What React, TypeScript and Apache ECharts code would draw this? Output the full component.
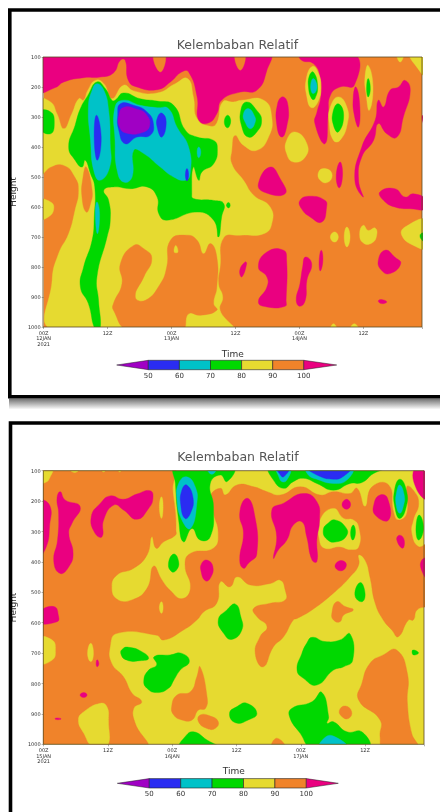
import React, { useEffect, useRef } from "react";
import * as echarts from "echarts";

const titleText = "Kelembaban Relatif";
const heightTicks = [100, 200, 300, 400, 500, 600, 700, 800, 900, 1000];
const timeLabels1 = ["00Z\n12JAN\n2021", "12Z", "00Z\n13JAN", "12Z", "00Z\n14JAN", "12Z"];
const timeLabels2 = ["00Z\n15JAN\n2021", "12Z", "00Z\n16JAN", "12Z", "00Z\n17JAN", "12Z"];
const legendLevels = [50, 60, 70, 80, 90, 100];

const PURPLE = "#a000c4", BLUE = "#2a2cf2", CYAN = "#00c2c8", GREEN = "#00d800", YELLOW = "#e6da30", ORANGE = "#f0832a", PINK = "#ea0080";
const legendColors = [PURPLE, BLUE, CYAN, GREEN, YELLOW, ORANGE, PINK];

// Contour regions, as flat lists of hour, hPa pairs.
const p1Pink = [
  [-1,90,42.2,90,41.9,144,40,211,36.9,217,33.4,244,32.5,289,30.9,320,29.1,311,28.8,233,27.2,150,25.9,150,23.8,183,21.3,209,17.5,200,15.9,178,15.3,111,14.4,111,13.1,153,10.6,167,7.5,169,3.8,183,2.2,202,-1,213],
  [45,233,45.9,267,45.6,333,44.7,367,43.8,333,43.9,256],
  [48.1,90,58.3,90,58.3,194,55.6,200,53.8,228,53.4,289,52.8,389,50.9,322,51.3,283,52,233,51.9,167,50.6,122,48.4,111],
  [58.6,200,59.3,256,59.1,333,58.3,294,58.1,233],
  [67.8,178,68.8,211,67.5,300,66.3,367,64.4,356,62.8,322,61.9,378,59.7,433,59.1,511,60,567,58.4,511,59.7,400,62.2,311,62.8,244,63.8,267,65,211,66.6,200],
  [55.6,450,56.1,489,55.5,536,54.9,500],
  [42.5,467,44.4,506,45.3,556,41.3,550,40.3,522],
  [63.1,550,65.9,539,67.8,567,69.4,556,72,578,72,606,68.8,606,65.9,600,63.8,578],
  [48.1,578,50,564,52.8,578,53.1,600,52.2,650,50,633,48.4,606],
  [37.8,783,38.1,789,37.2,833,36.8,811],
  [41.9,750,45,744,45.6,778,45.5,911,45.3,931,41.9,933,40.3,917,41.9,867,41.9,833,40.3,800],
  [49.1,767,50.3,789,49.4,844,49.1,911,48.1,931,47.4,911,48.1,856,48.6,800],
  [52.1,744,52.4,778,51.9,813,51.7,778],
  [64.1,744,65.9,767,67,789,65,822,63.4,811,62.8,778],
  [62.8,913,63.6,909,64.4,917,63.4,922],
  [71,300,72,290,72,340],
];
const p1OrangeNotches = [
  [20.6,90,22.8,90,21.9,150],
  [35.9,90,37.8,90,36.9,144],
];
const p1Yellow = [
  [-1,244,1.3,250,2.5,289,3.8,339,5.3,289,6.6,239,7.5,244,8.3,211,9.7,178,11.3,189,12.8,239,15,194,16.9,213,21.3,220,24.7,189,27,172,28.1,233,28.8,306,31.3,331,32.5,320,33.6,250,35.6,250,37.2,244,41.3,244,42.8,300,42.2,367,40,411,37.5,394,35.9,361,35.3,411,35.3,456,37.5,511,39.4,561,42.5,600,42.8,656,41.3,689,36.9,694,33.8,702,33.1,800,32.8,856,33.6,900,33.1,944,35.3,1010,1.9,1010,1.6,844,2.8,756,4.7,689,5.9,611,6.6,544,5.9,500,3.8,461,1.3,467,-1,500],
  [-1,578,1.3,583,1.9,606,0.9,633,-1,639],
  [47.2,350,49.4,389,49.1,433,46.9,450,45.6,422,45.6,378],
  [52.8,472,54.1,489,53.4,517,51.9,511,51.6,483],
  [50.5,131,51.6,156,52,200,51.6,244,50.3,269,49.4,233,49.3,172],
  [55.3,233,56.9,267,57,322,55.6,378,54.4,378,53.6,322,53.8,267],
  [60.9,128,61.8,200,61.1,278,60.5,222,60.3,167],
  [68.8,90,72,90,72,167,70,133],
  [66.3,90,67.5,90,66.9,117],
  [53.8,700,54.6,683,55.3,700,54.6,717],
  [56.9,667,57.5,700,56.9,733,56.4,700],
  [60,661,60.9,678,62.2,670,62.5,694,61.6,720,60,720,59.3,689],
  [72,644,72,735,69.4,728,67.2,694,67.8,667],
  [53.8,1010,54.4,989,55,1010],
  [57.5,1010,58.3,989,59.1,1010],
];
const p1OrangeIslands = [
  [13.1,922,14.7,856,14.4,789,16.9,728,18.8,739,20.3,772,18.8,833,17.2,900,19.1,911,21.9,856,23.1,800,23.8,711,26.9,694,28.8,711,30,756,31.3,722,32.5,767,32.5,867,31.9,922,32.5,944,29.4,961,27.2,956,25.9,1010,15.9,1010,13.1,944],
  [8,467,9.1,544,8.8,589,8,617,7.2,567,7.4,500],
];
const p1YellowSmall = [[24.8,728,25.2,750,24.5,750]];
const p1Green = [
  [-1,283,1.3,283,2,317,1.3,356,-1,333],
  [4.7,400,5.9,328,6.9,272,8.3,228,10,183,11.6,206,12.8,244,13.4,244,15,220,18.1,239,21.3,247,24.4,261,26.6,344,28.8,367,31.9,378,32.6,406,31.9,456,29.7,483,29.1,511,28.1,467,27.8,556,28.1,572,31.9,578,33.8,589,33.4,633,32.8,700,31.9,644,28.8,617,23.1,644,21.6,622,21.3,567,19.4,533,16.3,539,13.1,533,11.3,544,12.2,578,12.5,644,11.9,700,10,833,10.3,911,10.6,1010,9.7,1010,8.4,922,6.9,867,7.5,800,9.1,711,9.5,633,9.6,533,8.8,489,7.8,444,7.2,467,5.9,444],
  [34.5,294,35.1,313,34.5,336,33.9,317],
  [38.1,250,40,278,40.9,311,40,350,38.4,367,37.2,333,37,278],
  [50.6,150,51.4,194,50.9,239,50.3,239,49.7,200,49.9,161],
  [55.3,256,56.3,294,55.3,350,54.4,328,54.3,283],
  [60.9,172,61.3,206,60.9,233,60.6,206],
  [70.8,689,72,690,72,720,70.8,706],
  [34.7,585,35,594,34.7,603,34.3,594],
];
const p1Cyan = [
  [10,189,11.3,211,12.2,278,12.5,389,12.4,467,10.6,511,9.4,478,8.8,378,8.4,267,9.1,211],
  [10,583,10.5,622,10.1,689,9.7,622],
  [13.4,267,15,244,18.1,261,21.3,269,23.4,272,25,333,27.2,400,27.5,489,26.6,511,24.4,500,21.9,467,18.8,422,16.9,411,16.6,500,15,517,13.8,478,13.4,378],
  [29.1,400,29.5,417,29.1,436,28.8,417],
  [38.4,272,39.5,294,39.7,317,38.8,339,37.8,317,37.5,289],
  [50.6,172,51.3,200,50.6,222,50.1,200],
];
const p1Blue = [
  [13.9,294,14.4,256,16.9,261,19.4,283,20.6,322,20,361,17.5,367,15.3,389,14.1,344],
  [22.2,287,23,317,22.2,367,21.3,333,21.4,300],
  [9.9,294,10.8,367,10.1,444,9.5,378],
  [26.9,472,27.2,494,26.9,513,26.6,494],
];
const p1Purple = [[14.1,296,15,268,17.5,274,19.2,290,19.9,328,18.5,352,15.6,354,14.3,336]];

const p2OrangeMain = [
  [-1,90,23.9,90,24.1,164,24.6,240,24.7,295,24.6,312,22.4,334,21,355,20.2,317,19.3,377,16.8,421,13.7,443,12.7,482,13.7,523,16.5,525,19.3,487,20.5,414,22.1,460,23.6,493,25.8,521,27.4,487,26.4,410,27.4,372,31.7,355,32.6,306,31.7,240,31.1,186,33,158,33.9,180,36.1,147,39.2,153,41.7,169,44.2,180,47.9,153,51.6,180,54.1,169,57.2,175,58.5,158,60,218,61.3,153,64.4,147,65.3,235,66.2,262,67.8,240,67.8,153,69,164,70,207,69,262,68.7,306,70,350,72,339,72,536,69.7,558,69,591,68.1,591,66.2,646,65,624,63.4,591,61.9,536,60.9,449,60,394,58.8,377,58.8,410,57.2,449,54.4,498,50.1,558,47.3,586,46.6,591,44.8,646,42.9,679,41,745,39.5,701,40.4,646,41.7,613,39.8,580,39.2,553,42.3,536,45.1,525,45.1,493,44.2,460,42.3,471,38.6,476,36.1,449,34.8,482,33,465,32.3,536,29.9,564,28.6,591,26.1,624,22.4,657,21.1,641,13.7,635,12.4,679,12.7,734,14.9,778,16.5,832,18.3,860,16.8,882,17.1,931,19,1010,-1,1010],
  [29.2,745,30.5,843,30.2,882,28.9,887,27.7,920,25.8,920,24.3,904,23.9,876,24.9,838,27.4,827,28.6,778],
  [29.2,904,31.1,907,32.6,926,32,948,30.5,948,28.9,926],
  [42.6,1010,43.5,980,45.1,1010],
  [56.3,874,57.5,893,56.9,915,55.7,909,55.2,889],
  [65.9,690,67.9,767,67.9,865,68.7,964,69.7,1010,63.4,1010,62.8,975,62.8,920,58.8,854,59.4,800,60.9,734,63.4,706],
  [54.7,531,56.3,547,57.8,558,56,575,55.3,597,54.1,591,53.8,569],
];
const p2Yellow = [
  [-1,90,1.6,90,1.1,125,0.3,139,-1,139],
  [4.7,90,6.8,90,5.8,106],
  [10.6,90,11.8,90,11.2,104],
  [13.7,90,14.6,90,14.2,104],
  [22,186,22.3,218,22,257,21.6,218],
  [22,531,22.3,550,22,569,21.6,550],
  [-1,652,1.6,657,2.2,690,1.6,723,-1,731],
  [8.8,668,9.3,701,8.8,728,8.2,701],
  [10.6,865,11.8,876,12.1,920,11.8,1010,9.3,1010,7.5,964,6.5,920,7.5,893],
  [54.1,224,56,257,57.8,262,58.8,286,58.8,350,57.2,359,55.3,350,52.5,355,51.5,328,51.6,262],
];
const p2Pink = [
  [-1,202,1.1,213,1.1,284,0.5,350,-1,383],
  [3.1,169,4,196,6.8,218,5.3,273,4.7,306,5.5,372,4.7,416,3.1,438,1.9,399,2.6,328,2.8,240,2.5,191],
  [19.9,166,20.4,191,19.6,224,17.4,260,14.9,229,13.1,213,11.2,262,10.9,317,9.6,306,8.9,251,10.6,207,12.4,183,14.9,194,17.4,177],
  [37.9,191,39.2,229,39.8,372,38.2,405,37.3,421,36.6,394,37.3,306,36.6,240],
  [48.5,175,51,202,51.5,262,51,328,51,399,50.1,394,49.1,317,48.2,268,46.6,279,45.4,328,43.8,361,42.9,388,43.5,317,42.6,229,44.8,207],
  [56.5,194,57.3,210,56.6,227,55.7,213],
  [62.8,180,64.2,191,64.4,262,61.9,246,61.7,207],
  [66.5,312,67.3,328,67,355,65.9,326],
  [55.3,396,56.5,407,55.7,429,54.4,416],
  [30.5,394,31.6,416,31.1,454,30.2,462,29.4,432,29.5,405],
  [69.3,90,72,90,72,194,69.7,164],
  [70.6,394,72,390,72,460,70.6,430],
  [-1,569,1.9,547,2.8,580,2.5,597,-1,600],
  [7.5,830,8.1,838,7.5,846,6.8,838],
  [2.2,914,3.2,915,3.2,918,2.2,918],
  [10,722,10.3,735,10,745,9.8,735],
];
const p2Green = [
  [24.6,90,35.4,90,34.2,136,33,114,31.1,142,31.7,218,31.1,317,29.2,328,27.7,290,26.1,334,25.2,262,24.6,142],
  [42.3,90,64.1,90,61.6,109,59.4,139,57.2,142,54.1,164,51,142,48.5,125,46.6,136,44.8,158,42.9,131],
  [66.5,128,67.7,164,67.7,218,66.5,257,65.6,224,65.5,164],
  [70.1,246,70.9,290,70,328,69.5,290],
  [54.4,262,56.3,284,56.6,312,54.7,334,52.9,326,52.2,295,53.2,271],
  [57.8,279,58.2,304,57.7,328,57.3,304],
  [24.3,374,25.2,399,24.8,427,23.9,432,23.3,405],
  [59.1,468,60,504,59.4,531,58.1,509],
  [35.8,539,36.8,580,37,624,35.1,655,33.6,635,32.6,591,34.2,558],
  [15.9,681,18,692,19.6,717,18,725,15.5,723,14.4,701,14.9,684],
  [23.6,706,25.8,701,27.2,728,25.5,756,24.3,789,23.3,816,21.1,830,19.3,816,18.7,789,19.6,756,21.1,739,20.6,712],
  [50.1,648,52.5,662,55.3,657,57.2,637,57.7,723,56,745,54.1,756,51,805,48.5,783,47.3,756,48.2,701,49.1,668],
  [37.9,865,39.8,898,38.2,920,35.8,929,34.7,898,36.1,876],
  [28,959,30.5,986,32.6,1010,25.5,1010,26.4,975],
  [51.9,829,53.2,909,52.9,931,54.1,926,56.6,959,59.4,959,60.6,1010,50.1,1010,47.9,964,45.9,909,46.3,882,50.1,860],
  [68.9,690,70,699,69,706],
];
const p2Cyan = [
  [26.7,120,28.3,153,28.6,207,27.4,290,25.8,262,24.9,196,25.2,142],
  [30.5,90,32.3,90,31.4,112],
  [43.5,90,46,90,45.4,131,44.5,136,43.9,120],
  [49.1,90,57.5,90,56.6,131,54.1,142,51,128,49.4,114],
  [66.5,147,67.3,180,67.2,213,66.5,240,65.8,213,65.9,169],
  [54.1,973,56.6,1010,51.6,1010,52.5,978],
];
const p2Blue = [
  [26.7,147,27.9,191,27.4,240,26.4,257,25.6,213,25.8,164],
  [43.6,90,45.8,90,44.8,120,44.2,114],
  [49.4,90,57.2,90,56,118,54.1,128,51,114],
];

function contourSeries(gridIndex: number, color: string, polys: number[][]) {
  return {
    type: "custom",
    xAxisIndex: gridIndex,
    yAxisIndex: gridIndex,
    coordinateSystem: "cartesian2d",
    clip: true,
    silent: true,
    data: polys.map((p, i) => [p[0], p[1], i]),
    renderItem: (params: any, api: any) => {
      const flat = polys[params.dataIndex];
      const points: number[][] = [];
      for (let k = 0; k < flat.length; k += 2) points.push(api.coord([flat[k], flat[k + 1]]));
      return {
        type: "polygon",
        shape: { points, smooth: 0.5 },
        style: { fill: color, stroke: color, lineWidth: 0.4 },
      };
    },
  };
}

const layers1: [string, number[][]][] = [
  [PINK, p1Pink], [ORANGE, p1OrangeNotches], [YELLOW, p1Yellow], [ORANGE, p1OrangeIslands],
  [YELLOW, p1YellowSmall], [GREEN, p1Green], [CYAN, p1Cyan], [BLUE, p1Blue], [PURPLE, p1Purple],
];
const layers2: [string, number[][]][] = [
  [ORANGE, p2OrangeMain], [YELLOW, p2Yellow], [PINK, p2Pink], [GREEN, p2Green], [CYAN, p2Cyan], [BLUE, p2Blue],
];

const grids = [
  { left: 43, top: 57, width: 379, height: 270 },
  { left: 43.3, top: 470.7, width: 380.7, height: 273.6 },
];

function xAxisOf(gridIndex: number, labels: string[]) {
  return {
    type: "value", gridIndex, min: 0, max: 71, interval: 12,
    name: "Time", nameLocation: "middle", nameGap: 22,
    nameTextStyle: { fontFamily: "DejaVu Sans", fontSize: 9, color: "#333" },
    splitLine: { show: false },
    axisLine: { show: false },
    axisTick: { length: 2, lineStyle: { color: "#666", width: 0.5 } },
    axisLabel: {
      fontFamily: "DejaVu Sans", fontSize: 5, lineHeight: 5.5, color: "#333", margin: 3,
      formatter: (v: number) => labels[v / 12] ?? "",
    },
  };
}
function yAxisOf(gridIndex: number) {
  return {
    type: "value", gridIndex, min: 100, max: 1000, interval: 100, inverse: true,
    name: "Height", nameLocation: "middle", nameGap: 23, nameRotate: 90,
    nameTextStyle: { fontFamily: "DejaVu Sans", fontSize: 9, color: "#333" },
    splitLine: { show: false },
    axisLine: { show: false },
    axisTick: { length: 2, lineStyle: { color: "#666", width: 0.5 } },
    axisLabel: {
      fontFamily: "DejaVu Sans", fontSize: 5, color: "#333", margin: 3,
      formatter: (v: number) => (heightTicks.includes(v) ? String(v) : ""),
    },
  };
}

function colorBar(tipL: number, x0: number, step: number, tipR: number, cy: number, half: number, labelY: number) {
  const out: any[] = [];
  const n = legendLevels.length;
  const edge = "#222";
  out.push({ type: "polygon", z: 20, shape: { points: [[tipL, cy], [x0, cy - half], [x0, cy + half]] }, style: { fill: legendColors[0], stroke: edge, lineWidth: 0.5 } });
  for (let i = 0; i < n - 1; i++) {
    out.push({ type: "rect", z: 20, shape: { x: x0 + i * step, y: cy - half, width: step, height: half * 2 }, style: { fill: legendColors[i + 1], stroke: edge, lineWidth: 0.6 } });
  }
  const xEnd = x0 + (n - 1) * step;
  out.push({ type: "polygon", z: 20, shape: { points: [[xEnd, cy - half], [tipR, cy], [xEnd, cy + half]] }, style: { fill: legendColors[6], stroke: edge, lineWidth: 0.5 } });
  legendLevels.forEach((v, i) => {
    out.push({ type: "text", z: 20, x: x0 + i * step, y: labelY, style: { text: String(v), fontFamily: "DejaVu Sans", fontSize: 7, fill: "#333", align: "center", verticalAlign: "middle" } });
  });
  return out;
}

export default function App() {
  const ref = useRef<HTMLDivElement>(null);
  useEffect(() => {
    const chart = echarts.init(ref.current!, null, { renderer: "svg" });
    const mkGrid = (g: any, bg: string) => ({ ...g, containLabel: false, show: true, backgroundColor: bg, borderWidth: 0 });
    const frames = [
      { type: "rect", z: 1, shape: { x: 9, y: 398.5, width: 431, height: 11 }, style: { fill: { type: "linear", x: 0, y: 0, x2: 0, y2: 1, colorStops: [{ offset: 0, color: "#6e6e6e" }, { offset: 1, color: "#ffffff" }] } } },
      { type: "rect", z: 2, shape: { x: 9.8, y: 10, width: 520, height: 386.8 }, style: { fill: "none", stroke: "#000", lineWidth: 3.6 } },
      { type: "rect", z: 2, shape: { x: 10.5, y: 423, width: 520, height: 520 }, style: { fill: "none", stroke: "#000", lineWidth: 3.6 } },
      ...grids.map((g) => ({ type: "rect", z: 30, shape: { x: g.left, y: g.top, width: g.width, height: g.height }, style: { fill: "none", stroke: "#5a4a22", lineWidth: 0.8 } })),
    ];
    chart.setOption({
      animation: false,
      backgroundColor: "#ffffff",
      title: [
        { text: titleText, left: 232.5, top: 33, textAlign: "center", textStyle: { fontFamily: "DejaVu Sans", fontSize: 12.5, fontWeight: "normal", color: "#555" } },
        { text: titleText, left: 233, top: 445, textAlign: "center", textStyle: { fontFamily: "DejaVu Sans", fontSize: 12.5, fontWeight: "normal", color: "#555" } },
      ],
      grid: [mkGrid(grids[0], ORANGE), mkGrid(grids[1], YELLOW)],
      xAxis: [xAxisOf(0, timeLabels1), xAxisOf(1, timeLabels2)],
      yAxis: [yAxisOf(0), yAxisOf(1)],
      series: [
        ...layers1.map(([c, p]) => contourSeries(0, c, p)),
        ...layers2.map(([c, p]) => contourSeries(1, c, p)),
      ],
      graphic: [
        ...frames,
        ...colorBar(116.7, 148.3, 31.1, 336.7, 365, 4.7, 375.7),
        ...colorBar(117.3, 149.3, 31.4, 338.3, 783.3, 4.7, 794),
      ],
    });
    return () => chart.dispose();
  }, []);
  return (
    <div style={{ position: "fixed", left: 0, top: 0, width: 440, height: 812, background: "#fff", overflow: "hidden" }}>
      <div ref={ref} style={{ width: 440, height: 812, filter: "blur(0.45px)" }} />
    </div>
  );
}
